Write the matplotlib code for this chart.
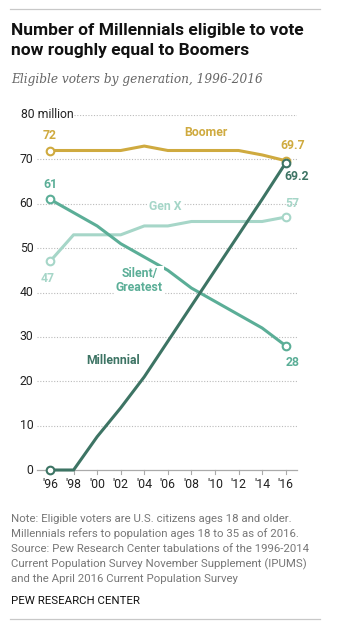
import matplotlib
matplotlib.use("Agg")
import matplotlib.pyplot as plt
from matplotlib.lines import Line2D

# ---- data (millions of eligible voters) ----
years = [1996, 1998, 2000, 2002, 2004, 2006, 2008, 2010, 2012, 2014, 2016]
year_labels = ["'96", "'98", "'00", "'02", "'04", "'06", "'08", "'10", "'12", "'14", "'16"]
boomer = [72, 72, 72, 72, 73, 72, 72, 72, 72, 71, 69.7]
genx = [47, 53, 53, 53, 55, 55, 56, 56, 56, 56, 57]
silent = [61, 58, 55, 51, 48, 45, 41, 38, 35, 32, 28]
millennial = [0, 0, 7.5, 14, 21, 29, 37, 45, 53, 61, 69.2]
y_ticks = [0, 10, 20, 30, 40, 50, 60, 70, 80]

C_BOOM = "#CFAA3F"
C_GENX = "#A6D6C8"
C_SIL = "#5BAE97"
C_MIL = "#3D7464"
GRID = "#BBBBBB"

W, H = 348, 634
fig = plt.figure(figsize=(W / 100, H / 100), dpi=100)
fig.patch.set_facecolor("white")

def fx(px):
    return px / W

def fy(py):
    return 1 - py / H

# plot area in pixels
ax_l, ax_r, ax_t, ax_b = 37, 297, 115, 470
ax = fig.add_axes([fx(ax_l), fy(ax_b), (ax_r - ax_l) / W, (ax_b - ax_t) / H])
px_per_year = (285.7 - 50) / 20
x0 = 1996 - (50 - ax_l) / px_per_year
x1 = 2016 + (ax_r - 285.7) / px_per_year
ax.set_xlim(x0, x1)
ax.set_ylim(0, 80)
ax.axis("off")

# dotted gridlines
for v in y_ticks[1:-1]:
    ax.plot([x0, x1], [v, v], ls=(0, (1, 1.5)), lw=0.8, color=GRID, zorder=1)
x80 = 1996 + (74 - 50) / px_per_year
ax.plot([x80, x1], [80, 80], ls=(0, (1, 1.5)), lw=0.8, color=GRID, zorder=1)

# baseline and tick marks
ax.plot([x0, x1], [0, 0], lw=0.9, color="#AAAAAA", zorder=1, clip_on=False)
for yr in years:
    ax.plot([yr, yr], [0, -0.8], lw=0.8, color="#AAAAAA", zorder=1, clip_on=False)

# y tick labels
TICK_FS = 8.8
for v in y_ticks:
    if v == 80:
        fig.text(fx(21), fy(115), "80 million", ha="left", va="center",
                 fontsize=TICK_FS, color="#222222", family="Roboto")
    else:
        ax.text(x0 - 0.3, v, str(v), ha="right", va="center",
                fontsize=TICK_FS, color="#222222", family="Roboto")

# x tick labels
for yr, lab in zip(years, year_labels):
    ax.text(yr, -3.3, lab, ha="center", va="center", fontsize=TICK_FS,
            color="#222222", family="Roboto", clip_on=False)

LW = 2.2
def series(vals, color, z):
    ax.plot(years, vals, color=color, lw=LW, zorder=z, clip_on=False,
            solid_joinstyle="round", solid_capstyle="round")
    ax.plot([years[0], years[-1]], [vals[0], vals[-1]], ls="none", marker="o",
            ms=5.5, mfc="white", mec=color, mew=1.5, zorder=z + 0.5, clip_on=False)

series(genx, C_GENX, 3)
series(silent, C_SIL, 4)
series(boomer, C_BOOM, 5)
series(millennial, C_MIL, 6)

lbl = dict(fontsize=8.8, fontweight="bold", family="Roboto")

def val_label(x, y, text, color, dx, dy, ha="center"):
    ax.annotate(text, (x, y), xytext=(dx, dy), textcoords="offset points",
                ha=ha, va="center", color=color, zorder=8, **lbl)

val_label(1996, boomer[0], "72", C_BOOM, 0, 11)
val_label(2016, boomer[-1], "69.7", C_BOOM, 5, 11)
val_label(2016, millennial[-1], "69.2", C_MIL, 8, -10)
val_label(1996, silent[0], "61", C_SIL, 0, 11)
val_label(1996, genx[0], "47", C_GENX, -2, -12)
val_label(2016, genx[-1], "57", C_GENX, 5, 10)
val_label(2016, silent[-1], "28", C_SIL, 5, -12)

def px2data(px, py):
    return 1996 + (px - 50) / px_per_year, (ax_b - py) / ((ax_b - ax_t) / 80)

def name_label(px, py, text, color):
    x, y = px2data(px, py)
    ax.text(x, y, text, ha="center", va="center", color=color, zorder=7,
            linespacing=1.05,
            bbox=dict(facecolor="white", edgecolor="none", pad=1.0), **lbl)

name_label(205.7, 132.7, "Boomer", C_BOOM)
name_label(165.7, 206, "Gen X", C_GENX)
name_label(139.3, 280.5, "Silent/\nGreatest", C_SIL)
name_label(112.7, 360, "Millennial", C_MIL)

# rules
fig.add_artist(Line2D([fx(10), fx(320)], [fy(9), fy(9)], color="#C8C8C8", lw=0.9))
fig.add_artist(Line2D([fx(10), fx(320)], [fy(619), fy(619)], color="#C8C8C8", lw=0.9))

# title and subtitle
fig.text(fx(11), fy(30), "Number of Millennials eligible to vote", ha="left",
         va="center", fontsize=12.5, fontweight="bold", color="#111111", family="Roboto")
fig.text(fx(11), fy(51), "now roughly equal to Boomers", ha="left",
         va="center", fontsize=12.5, fontweight="bold", color="#111111", family="Roboto")
fig.text(fx(11), fy(80), "Eligible voters by generation, 1996-2016", ha="left",
         va="center", fontsize=8.7, style="italic", color="#666666", family="DejaVu Serif")

notes = [
    "Note: Eligible voters are U.S. citizens ages 18 and older.",
    "Millennials refers to population ages 18 to 35 as of 2016.",
    "Source: Pew Research Center tabulations of the 1996-2014",
    "Current Population Survey November Supplement (IPUMS)",
    "and the April 2016 Current Population Survey",
]
for i, line in enumerate(notes):
    fig.text(fx(11), fy(519 + i * 15), line, ha="left", va="center",
             fontsize=8.2, color="#777777", family="Roboto")
fig.text(fx(11), fy(601), "PEW RESEARCH CENTER", ha="left", va="center",
         fontsize=8.2, color="#111111", family="Roboto")

fig.savefig("out.png", dpi=100, facecolor="white")
